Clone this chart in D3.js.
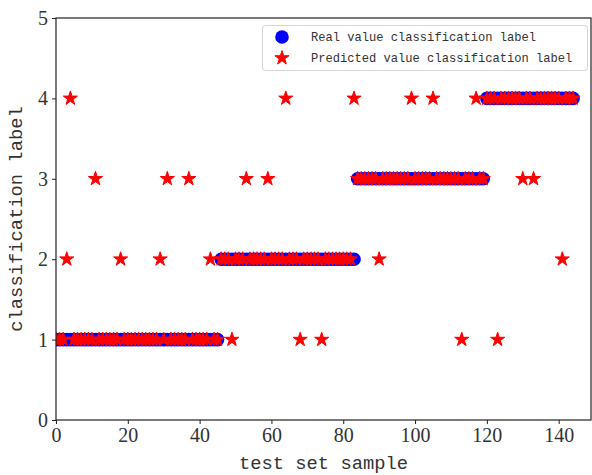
<!DOCTYPE html>
<html>
<head>
<meta charset="utf-8">
<script src="https://cdn.jsdelivr.net/npm/d3@7"></script>
<style>
  body { margin: 0; background: #fff; }
  svg { display: block; }
</style>
</head>
<body>
<div id="chart"></div>
<script>
// real and predicted class label for each test sample (index = sample number)
const realLabels = [
  1,1,1,1,1,1,1,1,1,1,
  1,1,1,1,1,1,1,1,1,1,
  1,1,1,1,1,1,1,1,1,1,
  1,1,1,1,1,1,1,1,1,1,
  1,1,1,1,1,1,2,2,2,2,
  2,2,2,2,2,2,2,2,2,2,
  2,2,2,2,2,2,2,2,2,2,
  2,2,2,2,2,2,2,2,2,2,
  2,2,2,2,3,3,3,3,3,3,
  3,3,3,3,3,3,3,3,3,3,
  3,3,3,3,3,3,3,3,3,3,
  3,3,3,3,3,3,3,3,3,3,
  4,4,4,4,4,4,4,4,4,4,
  4,4,4,4,4,4,4,4,4,4,
  4,4,4,4,4
];
const predLabels = [
  1,1,1,2,4,1,1,1,1,1,
  1,3,1,1,1,1,1,1,2,1,
  1,1,1,1,1,1,1,1,1,2,
  1,3,1,1,1,1,1,3,1,1,
  1,1,1,2,1,1,2,2,2,1,
  2,2,2,3,2,2,2,2,2,3,
  2,2,2,2,4,2,2,2,1,2,
  2,2,2,2,1,2,2,2,2,2,
  2,2,2,4,3,3,3,3,3,3,
  2,3,3,3,3,3,3,3,3,4,
  3,3,3,3,3,4,3,3,3,3,
  3,3,3,1,3,3,3,4,3,3,
  4,4,4,1,4,4,4,4,4,4,
  3,4,4,3,4,4,4,4,4,4,
  4,2,4,4,4
];
const xTicks = [0, 20, 40, 60, 80, 100, 120, 140];
const yTicks = [0, 1, 2, 3, 4, 5];
const legendNames = ["Real value classification label", "Predicted value classification label"];

const width = 592, height = 475;
const plotLeft = 56, plotTop = 18, plotRight = 591, plotBottom = 420;

const svg = d3.select("#chart").append("svg")
    .attr("width", width)
    .attr("height", height);

const x = d3.scaleLinear().domain([0, 149]).range([plotLeft, plotRight]);
const y = d3.scaleLinear().domain([0, 5]).range([plotBottom, plotTop]);

svg.append("clipPath").attr("id", "plot-area")
  .append("rect")
    .attr("x", plotLeft).attr("y", plotTop)
    .attr("width", plotRight - plotLeft).attr("height", plotBottom - plotTop);

const plot = svg.append("g").attr("clip-path", "url(#plot-area)");

// real labels: blue dots
plot.append("g")
  .selectAll("circle")
  .data(realLabels)
  .join("circle")
    .attr("cx", (d, i) => x(i))
    .attr("cy", d => y(d))
    .attr("r", 6.8)
    .attr("fill", "#0000ff");

// predicted labels: red stars on top
const star = d3.symbol().type(d3.symbolStar).size(62);
plot.append("g")
  .selectAll("path")
  .data(predLabels)
  .join("path")
    .attr("transform", (d, i) => `translate(${x(i)},${y(d)})`)
    .attr("d", star)
    .attr("fill", "#ff0000")
    .attr("stroke", "#ff0000")
    .attr("stroke-width", 1)
    .attr("stroke-linejoin", "round");

// spines
const spine = "#222";
svg.append("rect")
    .attr("x", plotLeft).attr("y", plotTop)
    .attr("width", plotRight - plotLeft).attr("height", plotBottom - plotTop)
    .attr("fill", "none")
    .attr("stroke", spine)
    .attr("stroke-width", 1.2);

const xAxis = svg.append("g")
    .attr("transform", `translate(0,${plotBottom})`)
    .call(d3.axisBottom(x).tickValues(xTicks).tickSize(4).tickPadding(4).tickFormat(d3.format("d")));
const yAxis = svg.append("g")
    .attr("transform", `translate(${plotLeft},0)`)
    .call(d3.axisLeft(y).tickValues(yTicks).tickSize(4).tickPadding(4).tickFormat(d3.format("d")));

[xAxis, yAxis].forEach(a => {
  a.select(".domain").remove();
  a.selectAll(".tick line").attr("stroke", spine);
  a.selectAll(".tick text")
    .attr("fill", "#333")
    .style("font-family", "'Liberation Serif', 'Times New Roman', serif")
    .style("font-size", "20px");
});

// axis titles
const labelFont = "'Liberation Mono', 'Courier New', monospace";
svg.append("text")
    .attr("x", (plotLeft + plotRight) / 2)
    .attr("y", 469)
    .attr("text-anchor", "middle")
    .attr("fill", "#333")
    .style("font-family", labelFont)
    .style("font-size", "18.8px")
    .text("test set sample");

svg.append("text")
    .attr("transform", `translate(22,${(plotTop + plotBottom) / 2}) rotate(-90)`)
    .attr("text-anchor", "middle")
    .attr("fill", "#333")
    .style("font-family", labelFont)
    .style("font-size", "18.8px")
    .text("classification label");

// legend
const legend = svg.append("g");
legend.append("rect")
    .attr("x", 262.5).attr("y", 25.5)
    .attr("width", 325).attr("height", 45)
    .attr("rx", 3)
    .attr("fill", "#fff")
    .attr("fill-opacity", 0.8)
    .attr("stroke", "#d5d5d5");

legend.append("circle")
    .attr("cx", 282).attr("cy", 37)
    .attr("r", 6.8)
    .attr("fill", "#0000ff");
legend.append("path")
    .attr("transform", "translate(282,58)")
    .attr("d", star)
    .attr("fill", "#ff0000")
    .attr("stroke", "#ff0000")
    .attr("stroke-width", 1)
    .attr("stroke-linejoin", "round");

legend.selectAll("text")
  .data(legendNames)
  .join("text")
    .attr("x", 311)
    .attr("y", (d, i) => 37 + i * 21)
    .attr("dy", "0.35em")
    .attr("fill", "#333")
    .style("font-family", labelFont)
    .style("font-size", "12.1px")
    .text(d => d);
</script>
</body>
</html>
